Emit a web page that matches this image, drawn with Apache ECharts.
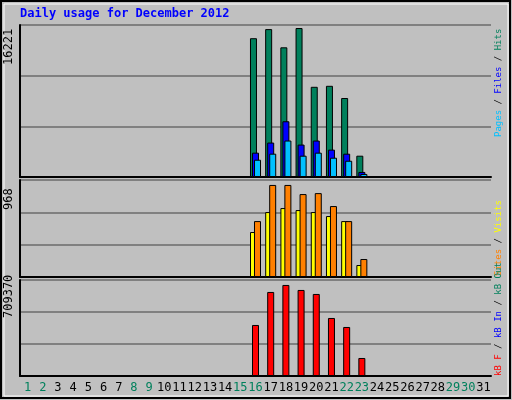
<!DOCTYPE html>
<html><head><meta charset="utf-8">
<script src="https://cdn.jsdelivr.net/npm/echarts@6/dist/echarts.min.js"></script>
<style>html,body{margin:0;padding:0;background:#c0c0c0}#c{width:512px;height:400px}</style>
</head><body><div id="c"></div>
<script>
// 月份天数
var days = []
for (var d = 1; d <= 31; d++) days.push(String(d))
var weekends = ['1','2','8','9','15','16','22','23','29','30']

// 数据 (16-23 日)
var hits   = [0,0,0,0,0,0,0,0,0,0,0,0,0,0,0, 15112,16104,14120,16221,9820,9930,8600,2320, 0,0,0,0,0,0,0,0]
var files  = [0,0,0,0,0,0,0,0,0,0,0,0,0,0,0, 2650,3750,6070,3530,3970,2980,2540,550, 0,0,0,0,0,0,0,0]
var pages  = [0,0,0,0,0,0,0,0,0,0,0,0,0,0,0, 1880,2540,3970,2320,2650,2100,1770,330, 0,0,0,0,0,0,0,0]
var visits = [0,0,0,0,0,0,0,0,0,0,0,0,0,0,0, 473,683,725,704,683,641,588,126, 0,0,0,0,0,0,0,0]
var sites  = [0,0,0,0,0,0,0,0,0,0,0,0,0,0,0, 588,968,968,872,882,746,588,189, 0,0,0,0,0,0,0,0]
var kbytes = [0,0,0,0,0,0,0,0,0,0,0,0,0,0,0, 397500,654800,709370,670400,639200,452100,382000,140300, 0,0,0,0,0,0,0,0]

var mono = 'DejaVu Sans Mono'
var grids = [
    {left: 20, right: 21, top: 25, height: 152},
    {left: 20, right: 21, top: 180, height: 97},
    {left: 20, right: 21, top: 280, height: 96}
]
var tops = [16550, 1020, 748000]

function xAx(i) {
    return {
        type: 'category', data: days, gridIndex: i,
        axisLine: {show: true, lineStyle: {color: '#000', width: 2}}, axisTick: {show: false},
        axisLabel: {show: i == 2, interval: 0, margin: 6, fontFamily: mono, fontSize: 12,
            color: function (v) { return weekends.indexOf(v) >= 0 ? '#00805c' : '#000' }}
    }
}
function yAx(i) {
    return {
        type: 'value', gridIndex: i, min: 0, max: tops[i], interval: tops[i] / 3,
        axisLabel: {show: false}, axisLine: {show: true, lineStyle: {color: '#000', width: 2}}, axisTick: {show: false},
        splitLine: {lineStyle: {color: '#808080', width: 2}}
    }
}
function bar(name, data, color, gi, gap) {
    return {
        name: name, type: 'bar', data: data, xAxisIndex: gi, yAxisIndex: gi,
        barWidth: 7, barGap: gap, animation: false,
        itemStyle: {color: color, borderColor: '#000', borderWidth: 1}
    }
}
function sideText(y, text, rich) {
    return {type: 'text', x: 499, y: y, rotation: Math.PI / 2, style: {
        text: text, font: '9px ' + mono, verticalAlign: 'middle', align: 'left', rich: rich}}
}

var chart = echarts.init(document.getElementById('c'))
chart.setOption({
    backgroundColor: '#c0c0c0',
    grid: grids,
    xAxis: [xAx(0), xAx(1), xAx(2)],
    yAxis: [yAx(0), yAx(1), yAx(2)],
    series: [
        bar('Hits', hits, '#00805c', 0, '-71%'),
        bar('Files', files, '#0000ff', 0, '-71%'),
        bar('Pages', pages, '#00c0ff', 0, '-71%'),
        bar('Visits', visits, '#ffff00', 1, '-43%'),
        bar('Sites', sites, '#ff8000', 1, '-43%'),
        bar('kB', kbytes, '#ff0000', 2, '-43%')
    ],
    graphic: [
        {type: 'rect', shape: {x: 1, y: 1, width: 509, height: 397}, style: {fill: 'none', stroke: '#000', lineWidth: 2}, silent: true},
        {type: 'rect', shape: {x: 4, y: 4, width: 504, height: 392}, style: {fill: 'none', stroke: '#fff', lineWidth: 1}, silent: true},
        {type: 'text', left: 20, top: 8, style: {text: 'Daily usage for December 2012', fill: '#0000ff', font: 'bold 12px ' + mono}},
        {type: 'text', x: 9, y: 65, rotation: Math.PI / 2, style: {text: '16221', fill: '#000', font: '12px ' + mono, align: 'left', verticalAlign: 'middle'}},
        {type: 'text', x: 9, y: 210, rotation: Math.PI / 2, style: {text: '968', fill: '#000', font: '12px ' + mono, align: 'left', verticalAlign: 'middle'}},
        {type: 'text', x: 9, y: 318, rotation: Math.PI / 2, style: {text: '709370', fill: '#000', font: '12px ' + mono, align: 'left', verticalAlign: 'middle'}},
        sideText(137, '{c|Pages}{k| / }{b|Files}{k| / }{g|Hits}',
            {c: {fill: '#00c0ff', font: '9px ' + mono}, k: {fill: '#000', font: '9px ' + mono}, b: {fill: '#0000ff', font: '9px ' + mono}, g: {fill: '#00805c', font: '9px ' + mono}}),
        sideText(276, '{o|Sites}{k| / }{y|Visits}',
            {o: {fill: '#ff8000', font: '9px ' + mono}, k: {fill: '#000', font: '9px ' + mono}, y: {fill: '#ffff00', font: '9px ' + mono}}),
        sideText(376, '{r|kB F}{k| / }{b|kB In}{k| / }{g|kB Out}',
            {r: {fill: '#ff0000', font: '9px ' + mono}, k: {fill: '#000', font: '9px ' + mono}, b: {fill: '#0000ff', font: '9px ' + mono}, g: {fill: '#00805c', font: '9px ' + mono}})
    ]
})
</script></body></html>
